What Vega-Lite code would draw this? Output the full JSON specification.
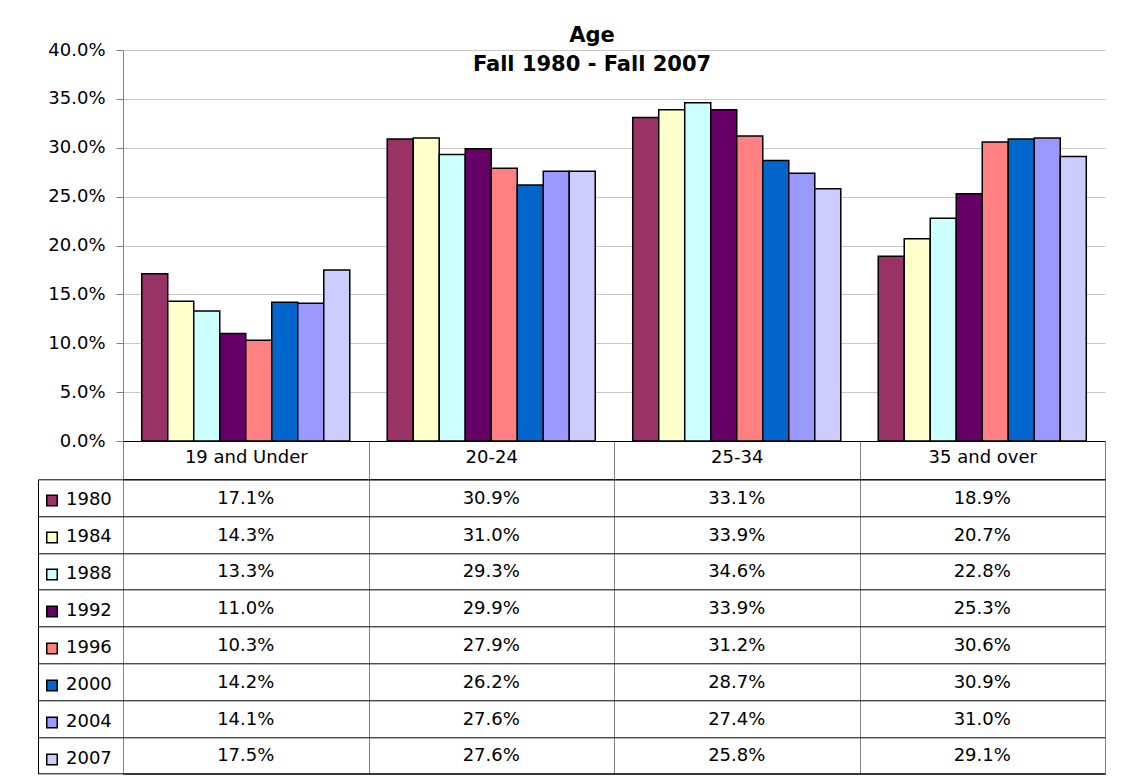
{
  "$schema": "https://vega.github.io/schema/vega-lite/v6.json",
  "background": "white",
  "padding": {"left": 37, "top": 25, "right": 10, "bottom": 5},
  "config": {
    "font": "DejaVu Sans",
    "view": {"stroke": null},
    "axis": {"labelFont": "DejaVu Sans", "labelColor": "black"}
  },
  "data": {
    "values": [
      {"age": "19 and Under", "year": "1980", "pct": 0.171},
      {"age": "19 and Under", "year": "1984", "pct": 0.143},
      {"age": "19 and Under", "year": "1988", "pct": 0.133},
      {"age": "19 and Under", "year": "1992", "pct": 0.110},
      {"age": "19 and Under", "year": "1996", "pct": 0.103},
      {"age": "19 and Under", "year": "2000", "pct": 0.142},
      {"age": "19 and Under", "year": "2004", "pct": 0.141},
      {"age": "19 and Under", "year": "2007", "pct": 0.175},
      {"age": "20-24", "year": "1980", "pct": 0.309},
      {"age": "20-24", "year": "1984", "pct": 0.310},
      {"age": "20-24", "year": "1988", "pct": 0.293},
      {"age": "20-24", "year": "1992", "pct": 0.299},
      {"age": "20-24", "year": "1996", "pct": 0.279},
      {"age": "20-24", "year": "2000", "pct": 0.262},
      {"age": "20-24", "year": "2004", "pct": 0.276},
      {"age": "20-24", "year": "2007", "pct": 0.276},
      {"age": "25-34", "year": "1980", "pct": 0.331},
      {"age": "25-34", "year": "1984", "pct": 0.339},
      {"age": "25-34", "year": "1988", "pct": 0.346},
      {"age": "25-34", "year": "1992", "pct": 0.339},
      {"age": "25-34", "year": "1996", "pct": 0.312},
      {"age": "25-34", "year": "2000", "pct": 0.287},
      {"age": "25-34", "year": "2004", "pct": 0.274},
      {"age": "25-34", "year": "2007", "pct": 0.258},
      {"age": "35 and over", "year": "1980", "pct": 0.189},
      {"age": "35 and over", "year": "1984", "pct": 0.207},
      {"age": "35 and over", "year": "1988", "pct": 0.228},
      {"age": "35 and over", "year": "1992", "pct": 0.253},
      {"age": "35 and over", "year": "1996", "pct": 0.306},
      {"age": "35 and over", "year": "2000", "pct": 0.309},
      {"age": "35 and over", "year": "2004", "pct": 0.310},
      {"age": "35 and over", "year": "2007", "pct": 0.291}
    ]
  },
  "concat": [
    {
      "width": 982,
      "height": 391,
      "title": {
        "text": ["Age", "Fall 1980 - Fall 2007"],
        "font": "DejaVu Sans",
        "fontSize": 21,
        "fontWeight": "bold",
        "color": "black",
        "frame": "group",
        "anchor": "middle",
        "dx": -22,
        "offset": -34,
        "lineHeight": 29
      },
      "mark": {"type": "bar", "stroke": "black", "strokeWidth": 1.5},
      "encoding": {
        "x": {
          "field": "age", "type": "nominal",
          "sort": ["19 and Under", "20-24", "25-34", "35 and over"],
          "scale": {"paddingInner": 0, "paddingOuter": 0},
          "axis": {
            "title": null, "labelAngle": 0, "labelFontSize": 18,
            "tickBand": "extent", "tickSize": 38.3, "tickColor": "#808080",
            "domainColor": "black", "labelPadding": -22, "labelBaseline": "middle"
          }
        },
        "xOffset": {
          "field": "year", "type": "nominal",
          "sort": ["1980", "1984", "1988", "1992", "1996", "2000", "2004", "2007"],
          "scale": {"paddingInner": 0, "paddingOuter": 0.72}
        },
        "y": {
          "field": "pct", "type": "quantitative",
          "scale": {"domain": [0, 0.4], "nice": false},
          "axis": {
            "title": null, "format": ".1%",
            "values": [0, 0.05, 0.1, 0.15, 0.2, 0.25, 0.3, 0.35, 0.4],
            "labelFontSize": 18, "tickSize": 7, "tickColor": "#808080",
            "domainColor": "#808080", "gridColor": "#c8c8c8", "labelPadding": 11
          }
        },
        "color": {
          "field": "year", "type": "nominal",
          "scale": {
            "domain": ["1980", "1984", "1988", "1992", "1996", "2000", "2004", "2007"],
            "range": ["#993366", "#FFFFCC", "#CCFFFF", "#660066", "#FF8080", "#0066CC", "#9999FF", "#CCCCFF"]
          },
          "legend": {
            "title": null, "orient": "none", "legendX": -80, "legendY": 432,
            "symbolType": "square", "symbolSize": 110,
            "symbolStrokeColor": "black", "symbolStrokeWidth": 1.5,
            "labelFontSize": 18, "labelFont": "DejaVu Sans", "labelColor": "black",
            "clipHeight": 36.8, "rowPadding": 0, "padding": 0, "labelOffset": 5
          }
        }
      }
    },
    {
      "width": 982,
      "height": 294.4,
      "view": {"stroke": "black", "strokeWidth": 1},
      "mark": {"type": "text", "fontSize": 18, "font": "DejaVu Sans", "color": "black", "dy": 1},
      "encoding": {
        "x": {
          "field": "age", "type": "nominal",
          "sort": ["19 and Under", "20-24", "25-34", "35 and over"],
          "scale": {"paddingInner": 0, "paddingOuter": 0},
          "axis": {
            "title": null, "labels": false, "ticks": false, "domain": false,
            "grid": true, "tickBand": "extent", "gridColor": "#808080", "gridOpacity": 1
          }
        },
        "y": {
          "field": "year", "type": "nominal",
          "sort": ["1980", "1984", "1988", "1992", "1996", "2000", "2004", "2007"],
          "scale": {"paddingInner": 0, "paddingOuter": 0},
          "axis": {
            "title": null, "labels": false, "offset": 85, "tickSize": -85,
            "tickBand": "extent", "tickColor": "black", "domainColor": "black",
            "grid": true, "gridColor": "black", "gridOpacity": 1
          }
        },
        "text": {"field": "pct", "type": "quantitative", "format": ".1%"}
      }
    }
  ],
  "columns": 1,
  "spacing": 38.3,
  "bounds": "flush",
  "align": "all"
}
